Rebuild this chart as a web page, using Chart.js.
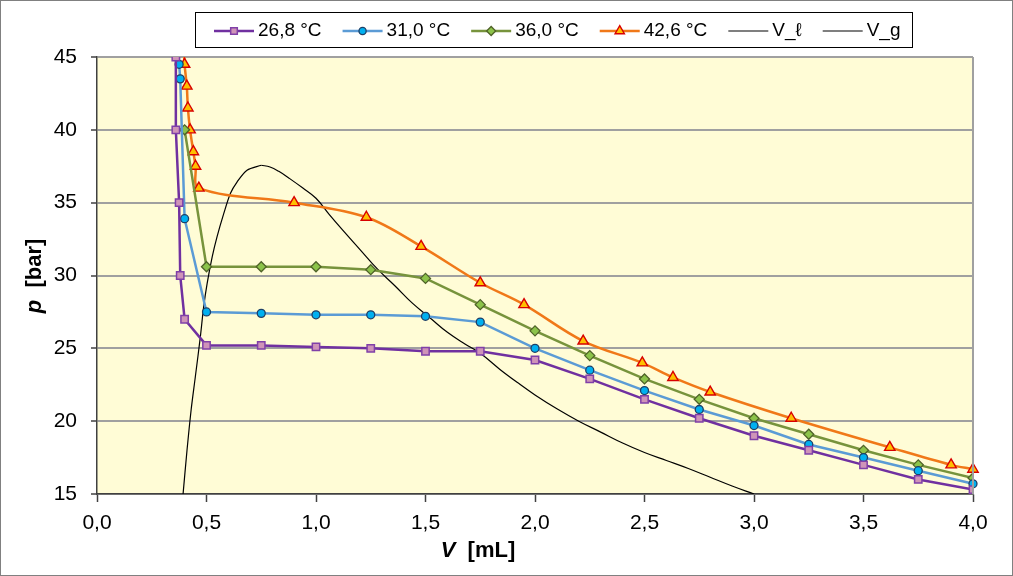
<!DOCTYPE html>
<html><head><meta charset="utf-8">
<script src="https://cdn.jsdelivr.net/npm/chart.js@4/dist/chart.umd.min.js"></script>
<style>html,body{margin:0;padding:0;background:#fff}#wrap{width:1013px;height:576px;position:relative}</style>
</head><body><div id="wrap"><canvas id="c" width="1013" height="576"></canvas></div>
<script>
// ---- data ----
const seriesNames = ['26,8 °C', '31,0 °C', '36,0 °C', '42,6 °C', 'V_ℓ', 'V_g'];

const v268 = [0.36, 0.36, 0.375, 0.38, 0.40, 0.50, 0.75, 1.00, 1.25, 1.50, 1.75, 2.00, 2.25, 2.50, 2.75, 3.00, 3.25, 3.50, 3.75, 4.00];
const p268 = [45.0, 40.0, 35.0, 30.0, 27.0, 25.2, 25.2, 25.1, 25.0, 24.8, 24.8, 24.2, 22.9, 21.5, 20.2, 19.0, 18.0, 17.0, 16.0, 15.3];

const v310 = [0.37, 0.375, 0.38, 0.40, 0.50, 0.75, 1.00, 1.25, 1.50, 1.75, 2.00, 2.25, 2.50, 2.75, 3.00, 3.25, 3.50, 3.75, 4.00];
const p310 = [46.5, 44.5, 43.5, 33.9, 27.5, 27.4, 27.3, 27.3, 27.2, 26.8, 25.0, 23.5, 22.1, 20.8, 19.7, 18.4, 17.5, 16.6, 15.7];

const v360 = [0.40, 0.50, 0.75, 1.00, 1.25, 1.50, 1.75, 2.00, 2.25, 2.50, 2.75, 3.00, 3.25, 3.50, 3.75, 4.00];
const p360 = [40.0, 30.6, 30.6, 30.6, 30.4, 29.8, 28.0, 26.2, 24.5, 22.9, 21.5, 20.2, 19.1, 18.0, 17.0, 16.1];

const v426 = [0.395, 0.40, 0.41, 0.415, 0.425, 0.44, 0.45, 0.465, 0.90, 1.23, 1.48, 1.75, 1.95, 2.22, 2.49, 2.63, 2.80, 3.17, 3.62, 3.90, 4.00];
const p426 = [46.5, 44.5, 43.0, 41.5, 40.0, 38.5, 37.5, 36.0, 35.0, 34.0, 32.0, 29.5, 28.0, 25.5, 24.0, 23.0, 22.0, 20.2, 18.2, 17.0, 16.7];

const vLiq = [0.393, 0.411, 0.430, 0.449, 0.472, 0.487, 0.503, 0.526, 0.548, 0.579, 0.609, 0.640, 0.685, 0.750];
const pLiq = [15.0, 18.0, 20.8, 23.05, 25.8, 27.85, 29.46, 31.28, 32.65, 34.26, 35.63, 36.43, 37.23, 37.57];

const vGas = [0.75, 0.79, 0.83, 0.88, 0.94, 1.00, 1.06, 1.12, 1.20, 1.28, 1.36, 1.44, 1.52, 1.60, 1.68, 1.75, 1.84, 1.92, 2.00, 2.10, 2.20, 2.30, 2.40, 2.50, 2.60, 2.70, 2.80, 2.90, 3.00];
const pGas = [37.57, 37.45, 37.15, 36.65, 36.0, 35.3, 34.2, 33.15, 31.8, 30.45, 29.3, 28.1, 27.1, 26.1, 25.3, 24.66, 23.55, 22.65, 21.8, 20.85, 20.0, 19.25, 18.5, 17.85, 17.3, 16.75, 16.15, 15.55, 15.0];

const xTickLabels = ['0,0', '0,5', '1,0', '1,5', '2,0', '2,5', '3,0', '3,5', '4,0'];
const yTickLabels = ['15', '20', '25', '30', '35', '40', '45'];

// ---- helpers ----
const pts = (xs, ys) => xs.map((x, i) => ({ x: x, y: ys[i] }));
const FONT = '"Liberation Sans", Arial, sans-serif';

const datasets = [
  { label: seriesNames[0], data: pts(v268, p268), borderColor: '#7030A0', borderWidth: 2.5,
    pointStyle: 'rect', pointRadius: 5.2, pointBackgroundColor: '#CF94B8', pointBorderColor: '#8040A8', pointBorderWidth: 1.5, tension: 0 },
  { label: seriesNames[1], data: pts(v310, p310), borderColor: '#5B9BD5', borderWidth: 2.5,
    pointStyle: 'circle', pointRadius: 4, pointBackgroundColor: '#00B0F0', pointBorderColor: '#1F3F66', pointBorderWidth: 1.3, tension: 0,
    clip: { left: 8, right: 8, bottom: 8, top: 0 } },
  { label: seriesNames[2], data: pts(v360, p360), borderColor: '#77933C', borderWidth: 2.5,
    pointStyle: 'rectRot', pointRadius: 5, pointBackgroundColor: '#8CC34A', pointBorderColor: '#4F6228', pointBorderWidth: 1.3, tension: 0 },
  { label: seriesNames[3], data: pts(v426, p426), borderColor: '#F07818', borderWidth: 2.5,
    pointStyle: 'triangle', pointRadius: 6, pointBackgroundColor: '#FFC000', pointBorderColor: '#D80000', pointBorderWidth: 1.4, tension: 0.35,
    clip: { left: 8, right: 8, bottom: 8, top: 0 } },
  { label: seriesNames[4], data: pts(vLiq, pLiq), borderColor: '#000000', borderWidth: 1.2, pointRadius: 0, tension: 0.3 },
  { label: seriesNames[5], data: pts(vGas, pGas), borderColor: '#000000', borderWidth: 1.2, pointRadius: 0, tension: 0.4 }
];

// no marker on the first (above-range) point of blue / orange
datasets[1].pointRadius = datasets[1].data.map((d, i) => i === 0 ? 0 : 4);
datasets[3].pointRadius = datasets[3].data.map((d, i) => i === 0 ? 0 : 6);

const framePlugin = {
  id: 'frame',
  beforeDraw(chart) {
    const { ctx, chartArea: a } = chart;
    ctx.save();
    ctx.fillStyle = '#ffffff';
    ctx.fillRect(0, 0, chart.width, chart.height);
    ctx.fillStyle = '#FFFCD6';
    ctx.fillRect(a.left, a.top, a.right - a.left, a.bottom - a.top);
    ctx.restore();
  },
  afterDraw(chart) {
    const { ctx, chartArea: a } = chart;
    ctx.save();
    // right edge of plot area
    ctx.strokeStyle = '#A0A0A0';
    ctx.lineWidth = 2;
    ctx.beginPath();
    ctx.moveTo(a.right, a.top);
    ctx.lineTo(a.right, a.bottom);
    ctx.stroke();
    // outer border
    ctx.strokeStyle = '#808080';
    ctx.lineWidth = 1;
    ctx.strokeRect(0.5, 0.5, chart.width - 1, chart.height - 1);

    // axis titles
    ctx.fillStyle = '#000';
    ctx.textBaseline = 'middle';
    const drawMixed = (parts, cx, cy, rot) => {
      let total = 0;
      parts.forEach(p => { ctx.font = p.font; total += ctx.measureText(p.t).width; });
      ctx.save();
      ctx.translate(cx, cy);
      ctx.rotate(rot);
      let x = -total / 2;
      ctx.textAlign = 'left';
      parts.forEach(p => { ctx.font = p.font; ctx.fillText(p.t, x, 0); x += ctx.measureText(p.t).width; });
      ctx.restore();
    };
    drawMixed([{ t: 'V', font: 'bold italic 22px ' + FONT }, { t: '  [mL]', font: 'bold 22px ' + FONT }], 478, 551, 0);
    drawMixed([{ t: 'p', font: 'bold italic 22px ' + FONT }, { t: '  [bar]', font: 'bold 22px ' + FONT }], 35, 276, -Math.PI / 2);

    // legend
    const L = { x: 195, y: 12, w: 718, h: 36 };
    ctx.fillStyle = '#fff';
    ctx.fillRect(L.x, L.y, L.w, L.h);
    ctx.strokeStyle = '#000';
    ctx.lineWidth = 1;
    ctx.strokeRect(L.x + 0.5, L.y + 0.5, L.w - 1, L.h - 1);
    ctx.font = '19px ' + FONT;
    ctx.textAlign = 'left';
    ctx.textBaseline = 'middle';
    let x = 214;
    const y = L.y + L.h / 2 + 1;
    chart.data.datasets.forEach((ds) => {
      ctx.strokeStyle = ds.borderColor;
      ctx.lineWidth = ds.borderWidth;
      ctx.beginPath();
      ctx.moveTo(x, y);
      ctx.lineTo(x + 40, y);
      ctx.stroke();
      const r = Array.isArray(ds.pointRadius) ? ds.pointRadius[ds.pointRadius.length - 1] : ds.pointRadius;
      if (r > 0) {
        ctx.fillStyle = ds.pointBackgroundColor;
        ctx.strokeStyle = ds.pointBorderColor;
        ctx.lineWidth = ds.pointBorderWidth;
        Chart.helpers.drawPoint(ctx, { pointStyle: ds.pointStyle, radius: r * 0.9, borderWidth: ds.pointBorderWidth, rotation: 0 }, x + 20, y);
      }
      ctx.fillStyle = '#000';
      ctx.font = '19px ' + FONT;
      ctx.fillText(ds.label, x + 44, y);
      x += 44 + ctx.measureText(ds.label).width + 21;
    });
    ctx.restore();
  }
};

new Chart(document.getElementById('c'), {
  type: 'line',
  data: { datasets: datasets },
  plugins: [framePlugin],
  options: {
    responsive: false,
    animation: false,
    devicePixelRatio: 1,
    layout: { padding: { left: 0, top: 57, right: 40, bottom: 0 } },
    plugins: { legend: { display: false }, tooltip: { enabled: false } },
    scales: {
      x: {
        type: 'linear', min: 0, max: 4,
        afterFit(s) { s.height = 82; },
        afterBuildTicks(s) { s.ticks = xTickLabels.map((t, i) => ({ value: i * 0.5 })); },
        ticks: { font: { family: FONT, size: 21 }, color: '#000', padding: 9, maxRotation: 0,
                 callback: (v, i) => xTickLabels[i] },
        grid: { drawOnChartArea: false, drawTicks: true, tickLength: 8, tickColor: '#404040', tickWidth: 1.5 },
        border: { display: true, color: '#404040', width: 1.5 }
      },
      y: {
        type: 'linear', min: 15, max: 45,
        afterFit(s) { s.width = 97; },
        afterBuildTicks(s) { s.ticks = yTickLabels.map((t, i) => ({ value: 15 + i * 5 })); },
        ticks: { font: { family: FONT, size: 21 }, color: '#000', padding: 14,
                 callback: (v, i) => yTickLabels[i] },
        grid: { color: '#A0A0A0', lineWidth: 2, drawTicks: true, tickLength: 6, tickColor: '#404040', tickWidth: 1.5 },
        border: { display: true, color: '#404040', width: 1.5 }
      }
    }
  }
});
</script>
</body></html>
